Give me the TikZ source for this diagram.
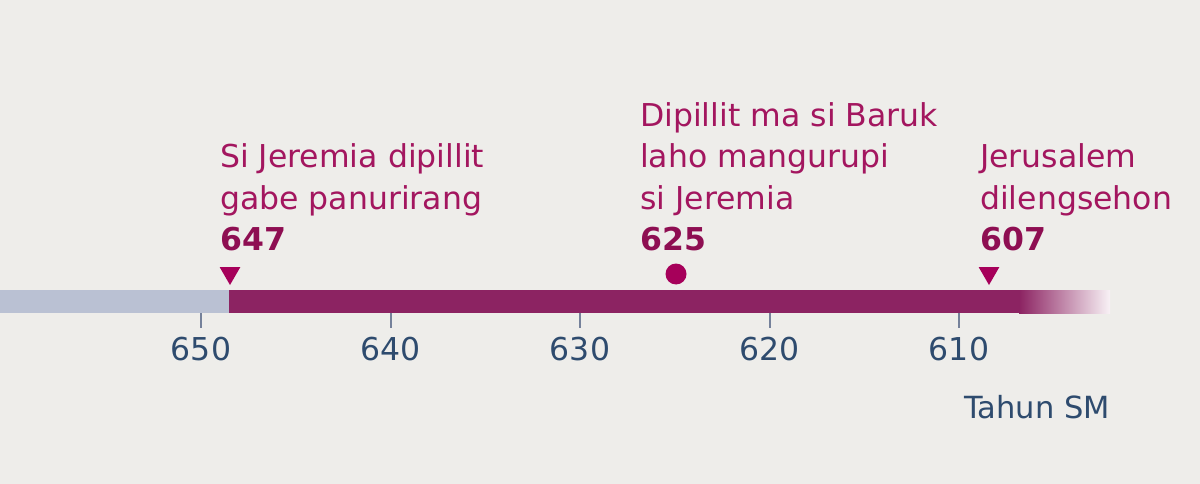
\documentclass[tikz,border=0pt]{standalone}
\usepackage{fontspec}
\setmainfont{DejaVu Sans}
\usetikzlibrary{shapes.geometric}

\definecolor{paper}{HTML}{EEEDEA}
\definecolor{barplum}{HTML}{8C2362}
\definecolor{barpale}{HTML}{BAC1D3}
\definecolor{eventtxt}{HTML}{A3165F}
\definecolor{eventnum}{HTML}{8E0E52}
\definecolor{markcol}{HTML}{A6005A}
\definecolor{axistxt}{HTML}{2E4B6E}
\definecolor{tickgray}{HTML}{75819A}

\begin{document}
\begin{tikzpicture}[x=1pt,y=-1pt,
    event/.style={anchor=south west,align=left,inner sep=0pt,text=eventtxt,
        font=\fontsize{31.5}{41.3}\selectfont},
    yearlabel/.style={anchor=base,inner sep=0pt,text=axistxt,
        font=\fontsize{31.5}{38}\selectfont},
    eventtri/.style={regular polygon,regular polygon sides=3,shape border rotate=180,
        fill=markcol,inner sep=0pt,minimum size=24pt},
    eventdot/.style={circle,fill=markcol,inner sep=0pt,minimum size=21pt},
    yeartick/.style={draw=tickgray,line width=2pt}]
\fill[paper] (0,0) rectangle (1200,484);
\useasboundingbox (0,0) rectangle (1200,484);

% the bar
\fill[barpale] (0,290) rectangle (229,313);
\fill[barplum] (229,290) rectangle (1020,313);
\shade[left color=barplum,right color=barplum!6!white] (1019,290) rectangle (1110,313);

% years
\foreach \yr/\x in {650/201,640/390.5,630/580,620/769.5,610/959}{
    \draw[yeartick] (\x,313) -- (\x,328);
    \node[yearlabel] (y\yr) at (\x,360) {\yr};
}
\node[yearlabel,anchor=base east,font=\fontsize{30.5}{36}\selectfont] (unit) at (1110,418) {Tahun SM};

% events
\node[eventtri] (m647) at (230,273) {};
\node[eventdot] (m625) at (676,274) {};
\node[eventtri] (m607) at (989,273) {};

\node[event] (e647) at (220,251) {Si Jeremia dipillit\\gabe panurirang\\\textcolor{eventnum}{\bfseries 647}};
\node[event] (e625) at (640,251) {Dipillit ma si Baruk\\laho mangurupi\\si Jeremia\\\textcolor{eventnum}{\bfseries 625}};
\node[event] (e607) at (980,251) {Jerusalem\\dilengsehon\\\textcolor{eventnum}{\bfseries 607}};
\end{tikzpicture}
\end{document}
